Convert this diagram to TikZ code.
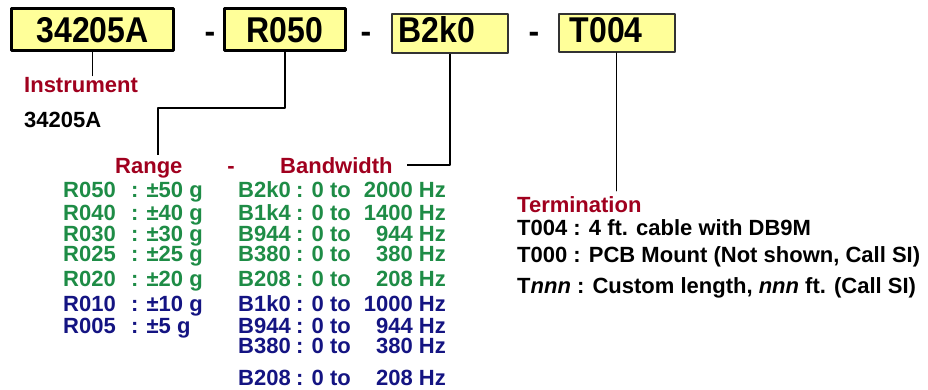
\documentclass[tikz,border=0pt]{standalone}
\usepackage{graphicx}
\usepackage{fontspec}
\setmainfont{Liberation Sans}
\usetikzlibrary{calc,positioning}
\definecolor{partred}{RGB}{160,0,30}
\definecolor{partgreen}{RGB}{30,140,70}
\definecolor{partblue}{RGB}{20,20,130}
\definecolor{partyellow}{RGB}{255,255,153}
\newcommand{\boxtext}[1]{\scalebox{1}[1.12]{#1}}

\begin{document}
\begin{tikzpicture}[x=1pt,y=-1pt,line cap=round,line join=round,
                    font=\fontsize{22}{24}\selectfont\bfseries,
  partbox/.style={draw,fill=partyellow,anchor=base west,inner ysep=0pt,
                  font=\fontsize{32}{32}\selectfont\bfseries},
  txt/.style={anchor=base west,inner sep=0pt},
  txtr/.style={anchor=base east,inner sep=0pt},
  head/.style={txt,text=partred},
  joiner/.style={anchor=base,inner sep=0pt,
                 font=\fontsize{32}{32}\selectfont\bfseries}]
  \useasboundingbox (0,0) rectangle (928,389);
  % Part number fields.
  \node[partbox,line width=3pt,inner xsep=0pt,text width=162pt,align=center,
        text height=34pt,text depth=8pt] (inst) at (10,42) {\boxtext{34205A}};
  \node[joiner] (j1) at (210,42) {-};
  \node[partbox,line width=3pt,inner xsep=0pt,text width=121pt,align=center,
        text height=34pt,text depth=8pt] (rng) at (223,42) {\boxtext{R050}};
  \node[joiner] (j2) at (366,42) {-};
  \node[partbox,line width=1.5pt,draw=black!80,inner xsep=7pt,text width=102pt,
        align=left,text height=28pt,text depth=11pt] (bw) at (391,42)
       {\boxtext{B2k0}};
  \node[joiner] (j3) at (534,42) {-};
  \node[partbox,line width=1.5pt,draw=black!80,inner xsep=11pt,text width=94pt,
        align=left,text height=28pt,text depth=10pt] (trm) at (558,42)
       {\boxtext{T004}};
  % Headings.
  \node[head] (instr) at (24,92) {Instrument};
  \node[txt] (instnum) at (24,127) {34205A};
  \node[head] (range) at (115,173) {Range};
  \node[head,anchor=base] (rbsep) at (231,173) {-};
  \node[head] (band) at (280,173) {Bandwidth};
  \node[head] (term) at (517,212) {Termination};
  % Range and bandwidth tables.
  \foreach \y/\code/\val/\col [count=\i] in
      {197/R050/50/partgreen,220/R040/40/partgreen,241/R030/30/partgreen,
       261/R025/25/partgreen,286/R020/20/partgreen,311/R010/10/partblue,
       333/R005/5/partblue}{
    \node[txt,text=\col] (rc\i) at (63,\y) {\code};
    \node[txt,text=\col] (rv\i) at (131,\y) {: ±\val\ g};
  }
  \foreach \y/\code/\f/\col [count=\i] in
      {197/B2k0/2000/partgreen,220/B1k4/1400/partgreen,241/B944/944/partgreen,
       261/B380/380/partgreen,286/B208/208/partgreen,311/B1k0/1000/partblue,
       333/B944/944/partblue,353/B380/380/partblue,385/B208/208/partblue}{
    \node[txt,text=\col] (bc\i) at (238,\y) {\code};
    \node[txt,text=\col] (bt\i) at (296,\y) {: 0 to};
    \node[txtr,text=\col] (bf\i) at (446,\y) {\f\ Hz};
  }
  % Termination options.
  \node[txt] (t1) at (517,235) {T004 : 4 ft. cable with DB9M};
  \node[txt] (t2) at (517,262) {T000 : PCB Mount (Not shown, Call SI)};
  \node[txt] (t3) at (517,293)
       {T\textit{nnn} : Custom length, \textit{nnn} ft. (Call SI)};
  % Leaders.
  \coordinate (rknee) at (158,108);
  \coordinate (rend) at (158,155);
  \draw[line width=1pt] (inst.south) -- ($(inst.south |- instr.north)+(0,-1)$);
  \draw[line width=2pt,line cap=butt] (rng.south) |- (rknee) -- (rend);
  \draw[line width=2pt,line cap=butt] (bw.south) |- ([xshift=14pt]band.east);
  \draw[line width=1pt] (trm.south) -- ($(trm.south |- term.north)+(0,-5)$);
\end{tikzpicture}
\end{document}
